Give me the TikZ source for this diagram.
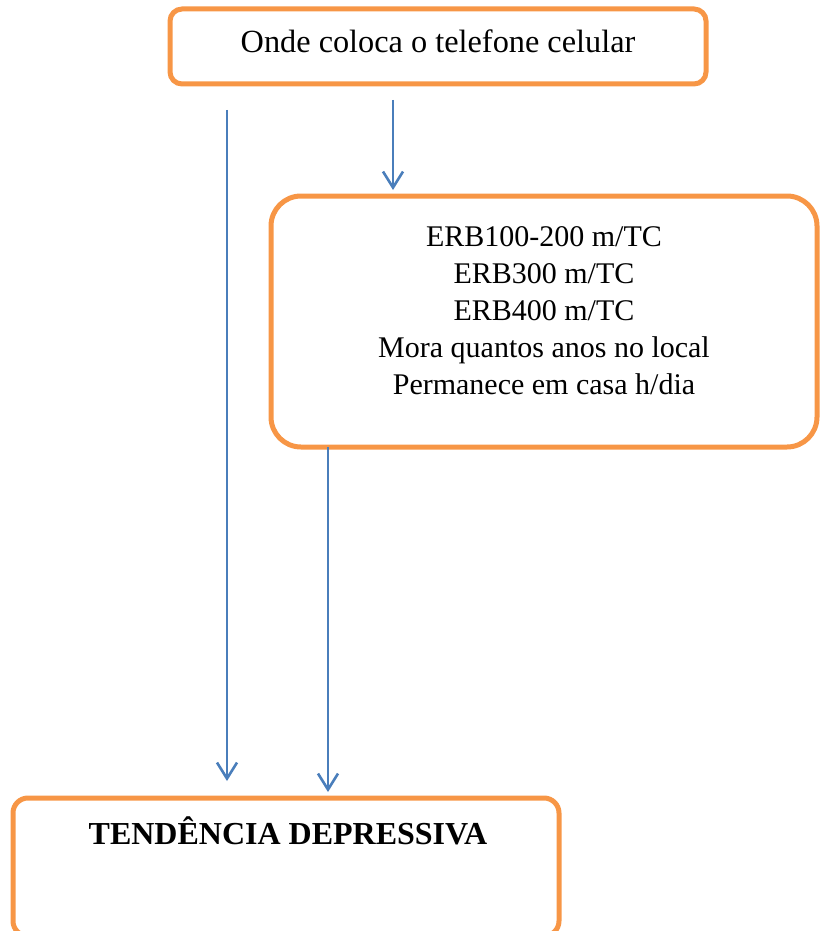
\documentclass[tikz,border=0pt]{standalone}
\usepackage{fontspec}
\setmainfont{Liberation Serif}
\usetikzlibrary{arrows.meta}
\definecolor{boxorange}{HTML}{F79646}
\definecolor{linkblue}{HTML}{4A7EBB}
\begin{document}
\begin{tikzpicture}[x=1pt,y=-1pt,
  panel/.style={draw=boxorange, line width=5pt, rounded corners=#1, inner sep=0pt, outer sep=0pt},
  link/.style={draw=linkblue, line width=2.6pt,
    -{Straight Barb[length=16pt,width=20pt,line width=2.6pt]}},
  caption/.style={anchor=base, align=center, inner sep=0pt}]
\useasboundingbox (0,0) rectangle (822,931);

% boxes (the lowest one runs past the bottom edge of the page)
\node[panel=12pt, minimum width=536pt, minimum height=75pt] (onde) at (438,46.5) {};
\node[panel=30pt, minimum width=546pt, minimum height=251pt] (erb) at (544,321.5) {};
\node[panel=15pt, minimum width=546pt, minimum height=138pt] (trend) at (286,867) {};

% box texts (base anchor sits on the last line)
\node[caption, font=\fontsize{32.3}{37}\selectfont] (ondetxt) at (438,53)
  {Onde coloca o telefone celular};
\node[caption, font=\fontsize{30}{37}\selectfont] (erbtxt) at (544,394)
  {ERB100-200 m/TC\\ERB300 m/TC\\ERB400 m/TC\\Mora quantos anos no local\\Permanece em casa h/dia};
\node[caption, font=\bfseries\fontsize{32}{37}\selectfont] (trendtxt) at (288,844)
  {TENDÊNCIA DEPRESSIVA};

% connector columns
\coordinate (colA) at (227,0);
\coordinate (colB) at (393,0);
\coordinate (colC) at (328,0);

% connectors
\draw[link, shorten <=26pt, shorten >=17pt] (onde.south -| colA) -- (trend.north -| colA);
\draw[link, shorten <=16pt, shorten >=6pt] (onde.south -| colB) -- (erb.north -| colB);
\draw[link, shorten >=6pt] (erb.south -| colC) -- (trend.north -| colC);
\end{tikzpicture}
\end{document}
